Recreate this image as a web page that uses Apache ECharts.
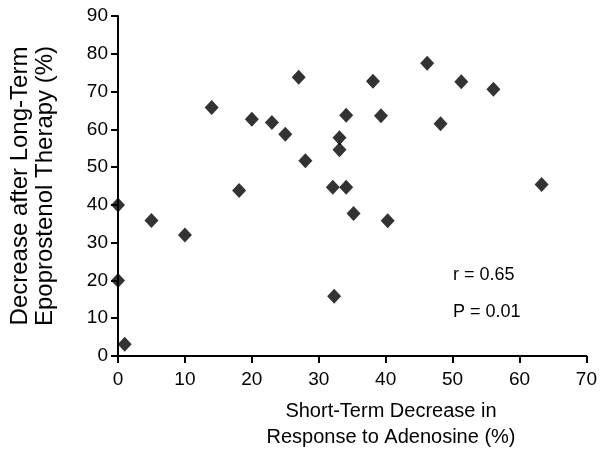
<!DOCTYPE html>
<html><head><meta charset="utf-8">
<script src="https://cdn.jsdelivr.net/npm/echarts@6/dist/echarts.min.js"></script>
<style>html,body{margin:0;padding:0;background:#fff}#c{width:600px;height:455px}</style>
</head><body><div id="c"></div>
<script>
const shortTerm = [14, 27, 20, 23, 25, 28, 34.1, 33.1, 33.1, 32.1, 34.1, 18.1, 46.2, 38.1, 51.3, 56.1, 39.3, 48.2, 63.3, 0, 5, 10, 0, 1, 32.3, 35.2, 40.3];
const longTerm  = [65.8, 73.8, 62.7, 61.8, 58.7, 51.7, 63.7, 57.8, 54.6, 44.7, 44.7, 43.8, 77.5, 72.7, 72.6, 70.6, 63.6, 61.5, 45.4, 40, 35.9, 32, 20, 3.1, 15.8, 37.7, 35.8];
const xTitle = 'Short-Term Decrease in\nResponse to Adenosine (%)';
const yTitle = 'Decrease after Long-Term\nEpoprostenol Therapy (%)';
const stats = ['r = 0.65', 'P = 0.01'];

const chart = echarts.init(document.getElementById('c'), null, {renderer: 'canvas'});
const font = 'Liberation Sans, Arial, sans-serif';
const pts = shortTerm.map((x, i) => [x, longTerm[i]]);
chart.setOption({
  animation: false,
  grid: {left: 117, right: 13, top: 16, bottom: 99},
  xAxis: {
    type: 'value', min: 0, max: 70, interval: 10,
    axisLine: {show: true, lineStyle: {color: '#000', width: 2}},
    axisTick: {show: true, inside: false, length: 7, lineStyle: {color: '#000', width: 2}},
    axisLabel: {color: '#000', fontSize: 19, fontFamily: font, margin: 14},
    splitLine: {show: false}
  },
  yAxis: {
    type: 'value', min: 0, max: 90, interval: 10,
    axisLine: {show: true, lineStyle: {color: '#000', width: 2}},
    axisTick: {show: true, inside: false, length: 7, lineStyle: {color: '#000', width: 2}},
    axisLabel: {color: '#000', fontSize: 19, fontFamily: font, margin: 10},
    splitLine: {show: false},
    name: yTitle, nameLocation: 'middle', nameGap: 60, nameRotate: 90,
    nameTextStyle: {color: '#000', fontSize: 24, fontFamily: font, lineHeight: 25}
  },
  series: [{
    type: 'scatter',
    data: pts,
    symbol: 'diamond',
    symbolSize: [14, 15],
    itemStyle: {color: '#000'},
    clip: false
  }],
  graphic: [
    {type: 'text', x: 391, y: 398, style: {text: xTitle, align: 'center', fontSize: 20, lineHeight: 26, fontFamily: font, fill: '#000'}},
    {type: 'text', left: 453, top: 266, style: {text: stats[0], fontSize: 18, fontFamily: font, fill: '#000'}},
    {type: 'text', left: 453, top: 303, style: {text: stats[1], fontSize: 18, fontFamily: font, fill: '#000'}}
  ]
});
</script></body></html>
